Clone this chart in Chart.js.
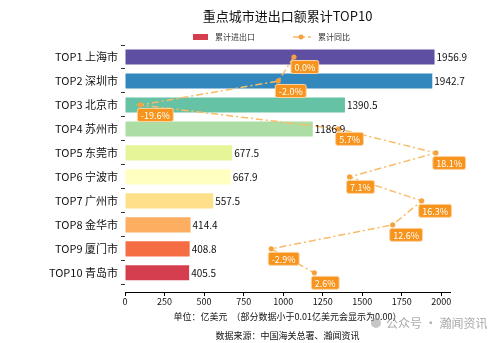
<!DOCTYPE html>
<html>
<head>
<meta charset="utf-8">
<script src="https://cdn.jsdelivr.net/npm/chart.js@4/dist/chart.umd.min.js"></script>
<style>
  html, body { margin: 0; padding: 0; background: #fff; }
  #wrap { width: 500px; height: 343px; }
</style>
</head>
<body>
<div id="wrap"><canvas id="chart"></canvas></div>
<script>
// data
const ranks = ['TOP1', 'TOP2', 'TOP3', 'TOP4', 'TOP5', 'TOP6', 'TOP7', 'TOP8', 'TOP9', 'TOP10'];
const cities = ['上海市', '深圳市', '北京市', '苏州市', '东莞市', '宁波市', '广州市', '金华市', '厦门市', '青岛市'];
const tradeValues = [1956.9, 1942.7, 1390.5, 1186.9, 677.5, 667.9, 557.5, 414.4, 408.8, 405.5];
const yoyGrowth = [0.0, -2.0, -19.6, 5.7, 18.1, 7.1, 16.3, 12.6, -2.9, 2.6];
const barColors = ['#5e4fa2', '#3288bd', '#66c2a5', '#abdda4', '#e6f598', '#ffffbf', '#fee08b', '#fdae61', '#f46d43', '#d53e4f'];
const xTicks = [0, 250, 500, 750, 1000, 1250, 1500, 1750, 2000];

const FONT = '"Noto Sans CJK SC", "Noto Sans", sans-serif';
const lineColor = '#f8bb66';
const pointColor = '#f5a13c';
const tagColor = '#f7941d';

const labels = ranks.map((r, i) => r + ' ' + cities[i]);

// titles, legend, footer and value tags
const decorPlugin = {
    id: 'decor',
    afterDatasetsDraw(chart) {
        const ctx = chart.ctx;
        const area = chart.chartArea;
        const midX = (area.left + area.right) / 2;
        ctx.save();

        // bar value labels
        const barMeta = chart.getDatasetMeta(0);
        ctx.font = '10px ' + FONT;
        ctx.fillStyle = '#111';
        ctx.textAlign = 'left';
        ctx.textBaseline = 'middle';
        barMeta.data.forEach((bar, i) => {
            ctx.fillText(tradeValues[i].toFixed(1), bar.x + 2, bar.y);
        });

        // growth tags
        const lineMeta = chart.getDatasetMeta(1);
        ctx.font = '9px ' + FONT;
        lineMeta.data.forEach((pt, i) => {
            const txt = yoyGrowth[i].toFixed(1) + '%';
            const w = ctx.measureText(txt).width + 7;
            const h = 13;
            const bx = pt.x - 3;
            const by = pt.y + 3.5;
            ctx.beginPath();
            ctx.roundRect(bx, by, w, h, 2);
            ctx.fillStyle = tagColor;
            ctx.fill();
            ctx.strokeStyle = '#fcd3a2';
            ctx.lineWidth = 1;
            ctx.stroke();
            ctx.fillStyle = '#fff';
            ctx.textAlign = 'left';
            ctx.fillText(txt, bx + 3.5, by + h / 2 + 0.5);
        });

        // title
        ctx.fillStyle = '#111';
        ctx.textAlign = 'center';
        ctx.font = '13px ' + FONT;
        ctx.fillText('重点城市进出口额累计TOP10', midX, 16);

        // legend
        ctx.fillStyle = barColors[9];
        ctx.fillRect(193, 34, 15, 6);
        ctx.font = '8px ' + FONT;
        ctx.fillStyle = '#333';
        ctx.textAlign = 'left';
        ctx.fillText('累计进出口', 215, 37);
        ctx.strokeStyle = lineColor;
        ctx.lineWidth = 1.5;
        ctx.setLineDash([7, 3, 2, 3]);
        ctx.beginPath();
        ctx.moveTo(293, 37);
        ctx.lineTo(311, 37);
        ctx.stroke();
        ctx.setLineDash([]);
        ctx.fillStyle = pointColor;
        ctx.beginPath();
        ctx.arc(301, 37, 2.5, 0, Math.PI * 2);
        ctx.fill();
        ctx.fillStyle = '#333';
        ctx.fillText('累计同比', 318, 37);

        // footer
        ctx.font = '9px ' + FONT;
        ctx.fillStyle = '#111';
        ctx.textAlign = 'center';
        ctx.fillText('单位：亿美元  （部分数据小于0.01亿美元会显示为0.00）', midX, 317);
        ctx.fillText('数据来源：中国海关总署、瀚闻资讯', midX, 336);

        // watermark
        ctx.font = '12px ' + FONT;
        ctx.fillStyle = 'rgba(140,140,140,0.75)';
        ctx.textAlign = 'left';
        ctx.fillText('公众号 · 瀚闻资讯', 386, 323);
        ctx.beginPath();
        ctx.arc(376, 323, 5, 0, Math.PI * 2);
        ctx.fillStyle = 'rgba(160,160,160,0.6)';
        ctx.fill();

        ctx.restore();
    }
};

const ctx = document.getElementById('chart').getContext('2d');
const chart = new Chart(ctx, {
    data: {
        labels: labels,
        datasets: [{
            type: 'bar',
            label: '累计进出口',
            data: tradeValues,
            backgroundColor: barColors,
            borderWidth: 0,
            xAxisID: 'x',
            yAxisID: 'y',
            categoryPercentage: 1,
            barPercentage: 0.63,
            order: 1
        }, {
            type: 'line',
            label: '累计同比',
            indexAxis: 'y',
            data: yoyGrowth,
            xAxisID: 'x2',
            yAxisID: 'y',
            borderColor: lineColor,
            borderWidth: 1.5,
            borderDash: [7, 3, 2, 3],
            pointRadius: 2.6,
            pointBackgroundColor: pointColor,
            pointBorderWidth: 0,
            clip: false,
            order: 0
        }]
    },
    options: {
        indexAxis: 'y',
        responsive: true,
        maintainAspectRatio: false,
        animation: false,
        layout: { padding: { top: 45, right: 50, bottom: 0, left: 0 } },
        plugins: {
            legend: { display: false },
            title: { display: false },
            tooltip: { enabled: false }
        },
        scales: {
            x: {
                type: 'linear',
                position: 'bottom',
                min: 0,
                max: 2054.7,
                afterBuildTicks: s => { s.ticks = xTicks.map(v => ({ value: v })); },
                afterFit: s => { s.height = 51; },
                border: { display: true, color: '#000', width: 1 },
                grid: { drawOnChartArea: false, drawTicks: true, tickLength: 4, color: '#000' },
                ticks: {
                    font: { family: FONT, size: 9 },
                    color: '#111',
                    padding: 0,
                    maxRotation: 0,
                    callback: v => String(v)
                }
            },
            x2: {
                type: 'linear',
                display: false,
                min: -21.56,
                max: 19.91
            },
            y: {
                type: 'category',
                offset: true,
                afterBuildTicks: s => { s._valueRange += 0.3; },
                afterFit: s => { s.width = 125; },
                border: { display: false },
                grid: { drawOnChartArea: false, drawTicks: true, tickLength: 4, color: '#333' },
                ticks: { font: { family: FONT, size: 11 }, color: '#111', padding: 3 }
            }
        }
    },
    plugins: [decorPlugin]
});
</script>
</body>
</html>
